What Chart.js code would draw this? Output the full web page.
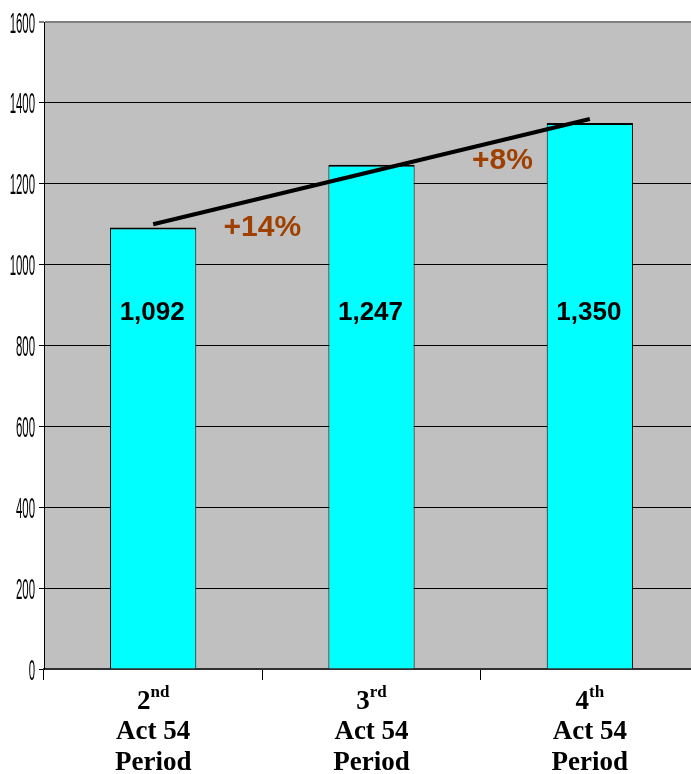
<!DOCTYPE html>
<html>
<head>
<meta charset="utf-8">
<script src="https://cdn.jsdelivr.net/npm/chart.js@4"></script>
<style>
  html, body { margin: 0; padding: 0; background: #fff; overflow: hidden; }
  #wrap { width: 700px; height: 774px; position: relative; }
</style>
</head>
<body>
<div id="wrap"><canvas id="actChart"></canvas></div>
<script>
// categories and values
const categories = ['2nd', '3rd', '4th'];
const subLines = ['Act 54', 'Period'];
const cases = [1092, 1247, 1350];
// trend line end points (middle left empty)
const trend = [1100, null, 1360];
// growth notes, placed in data units
const noteText = ['+14%', '+8%'];
const noteX = [0.5, 1.6];
const noteY = [1092, 1256];
const valueLabelLevel = 882;
const yTicks = [0, 200, 400, 600, 800, 1000, 1200, 1400, 1600];

const plotBackground = {
  id: 'plotBackground',
  beforeDraw(chart) {
    const { ctx, chartArea: a } = chart;
    ctx.save();
    ctx.fillStyle = '#c0c0c0';
    ctx.fillRect(a.left, a.top, a.right - a.left, a.bottom - a.top);
    ctx.restore();
  },
};

const textLayer = {
  id: 'textLayer',
  afterDraw(chart) {
    const { ctx } = chart;
    const x = chart.scales.x;
    const y = chart.scales.y;
    const meta = chart.getDatasetMeta(0);
    ctx.save();

    // y tick labels, squeezed like the original
    ctx.fillStyle = '#000';
    ctx.font = '30px "Liberation Sans", Arial, sans-serif';
    ctx.textAlign = 'right';
    ctx.textBaseline = 'alphabetic';
    y.ticks.forEach((t) => {
      const py = y.getPixelForValue(t.value);
      ctx.save();
      ctx.translate(35, py + 10.5);
      ctx.scale(0.38, 1);
      ctx.fillText(String(t.value), 0, 0);
      ctx.restore();
    });

    // values inside bars
    ctx.textAlign = 'center';
    ctx.textBaseline = 'middle';
    ctx.font = 'bold 26px "Liberation Sans", Arial, sans-serif';
    meta.data.forEach((bar, i) => {
      ctx.fillText(cases[i].toLocaleString('en-US'), bar.x - 1, y.getPixelForValue(valueLabelLevel));
    });

    // growth notes
    ctx.fillStyle = '#a04000';
    ctx.font = 'bold 30px "Liberation Sans", Arial, sans-serif';
    noteText.forEach((txt, i) => {
      ctx.fillText(txt, x.getPixelForValue(noteX[i]), y.getPixelForValue(noteY[i]));
    });

    // category labels with superscript ordinal
    ctx.fillStyle = '#000';
    ctx.textBaseline = 'alphabetic';
    const base = chart.chartArea.bottom;
    const big = 'bold 27px "Liberation Serif", "Times New Roman", serif';
    const small = 'bold 17px "Liberation Serif", "Times New Roman", serif';
    categories.forEach((cat, i) => {
      const cx = x.getPixelForValue(i);
      const m = cat.match(/^(\d+)(\D+)$/);
      ctx.font = big;
      const w1 = ctx.measureText(m[1]).width;
      ctx.font = small;
      const w2 = ctx.measureText(m[2]).width;
      const start = cx - (w1 + w2) / 2;
      ctx.textAlign = 'left';
      ctx.font = big;
      ctx.fillText(m[1], start, base + 40);
      ctx.font = small;
      ctx.fillText(m[2], start + w1, base + 28);
      ctx.textAlign = 'center';
      ctx.font = big;
      ctx.fillText(subLines[0], cx, base + 70);
      ctx.fillText(subLines[1], cx, base + 101);
    });
    ctx.restore();
  },
};

const ctx = document.getElementById('actChart').getContext('2d');
new Chart(ctx, {
  data: {
    labels: categories,
    datasets: [
      {
        type: 'line',
        data: trend,
        spanGaps: true,
        borderColor: '#000',
        borderWidth: 4,
        pointRadius: 0,
        order: 0,
      },
      {
        type: 'bar',
        data: cases,
        backgroundColor: '#00ffff',
        borderColor: '#000',
        borderWidth: { top: 2, left: 1, right: 1, bottom: 0 },
        borderSkipped: false,
        barPercentage: 0.395,
        categoryPercentage: 1,
        order: 1,
      },
    ],
  },
  options: {
    responsive: true,
    maintainAspectRatio: false,
    animation: false,
    layout: { padding: { top: 22, right: 1, left: 0, bottom: 0 } },
    plugins: {
      legend: { display: false },
      tooltip: { enabled: false },
    },
    scales: {
      x: {
        offset: true,
        grid: {
          offset: true,
          drawOnChartArea: false,
          drawTicks: true,
          tickLength: 11,
          color: '#000',
        },
        border: { color: '#303030', width: 2 },
        ticks: { display: false },
        afterFit(s) { s.height = 105; },
      },
      y: {
        min: 0,
        max: 1600,
        afterBuildTicks(s) { s.ticks = yTicks.map((v) => ({ value: v })); },
        grid: {
          color: (c) => (c.tick && c.tick.value === 1600 ? '#808080' : '#000'),
          lineWidth: (c) => (c.tick && c.tick.value === 1600 ? 2 : 1),
          tickLength: 5,
        },
        border: { color: '#000', width: 1 },
        ticks: { display: false },
        afterFit(s) { s.width = 44; },
      },
    },
  },
  plugins: [plotBackground, textLayer],
});
</script>
</body>
</html>
